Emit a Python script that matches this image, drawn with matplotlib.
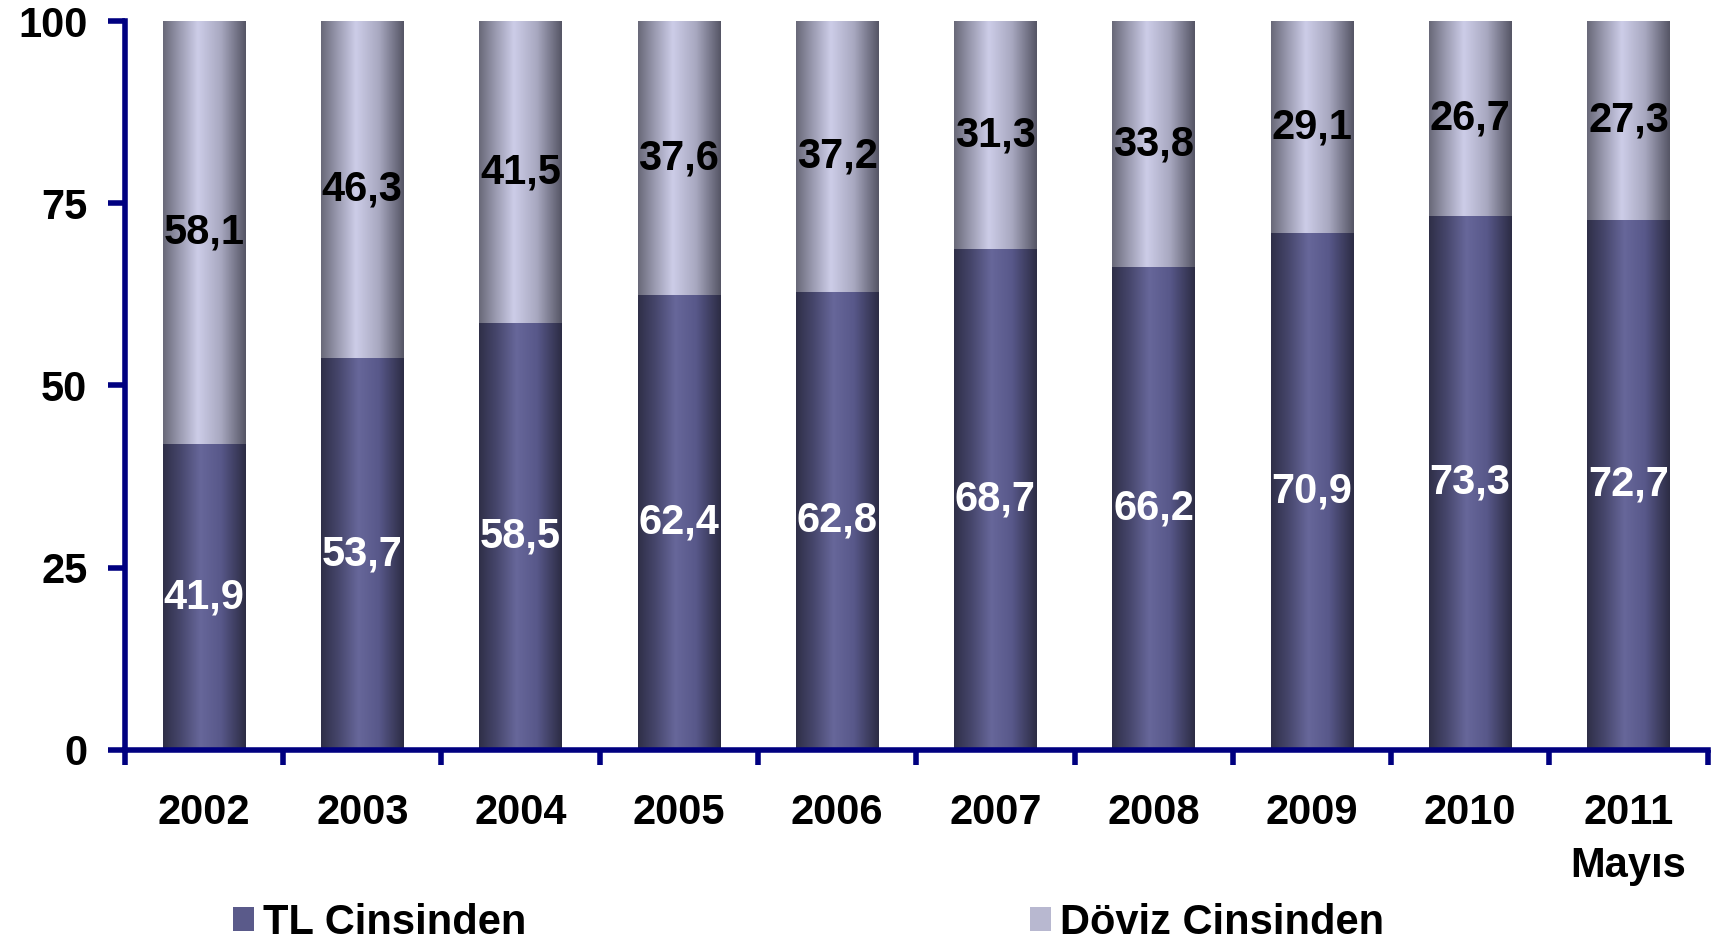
import matplotlib
matplotlib.use('Agg')
import matplotlib.pyplot as plt
from matplotlib.colors import LinearSegmentedColormap
from matplotlib.patches import Patch
import numpy as np

# veriler
years = ['2002', '2003', '2004', '2005', '2006', '2007', '2008', '2009', '2010', '2011\nMayıs']
tl_share = [41.9, 53.7, 58.5, 62.4, 62.8, 68.7, 66.2, 70.9, 73.3, 72.7]
doviz_share = [58.1, 46.3, 41.5, 37.6, 37.2, 31.3, 33.8, 29.1, 26.7, 27.3]
yticks = [0, 25, 50, 75, 100]

plt.rcParams['font.family'] = ['Liberation Sans', 'DejaVu Sans']
plt.rcParams['font.weight'] = 'bold'
fs = 30

navy = '#000080'
tl_cmap = LinearSegmentedColormap.from_list(
    'tl', [(0, '#2f2f48'), (0.2, '#45456a'), (0.45, '#67679a'), (0.7, '#58588a'), (1, '#2c2c44')])
dv_cmap = LinearSegmentedColormap.from_list(
    'dv', [(0, '#686878'), (0.2, '#9a9ab0'), (0.42, '#cdcde8'), (0.7, '#a8a8c0'), (1, '#555565')])
grad = np.linspace(0, 1, 256).reshape(1, -1)

fig = plt.figure(figsize=(17.11, 9.42), dpi=100)
ax = fig.add_axes([0.073, 0.204, 0.925, 0.7737])

x = np.arange(len(years))
w = 0.52
b1 = ax.bar(x, tl_share, width=w, color='none', edgecolor='none')
b2 = ax.bar(x, doviz_share, width=w, bottom=tl_share, color='none', edgecolor='none')

# yatay gradyan dolgu
for bars, cmap in [(b1, tl_cmap), (b2, dv_cmap)]:
    for r in bars:
        x0, y0 = r.get_x(), r.get_y()
        im = ax.imshow(grad, cmap=cmap, aspect='auto', interpolation='bicubic',
                       extent=(x0, x0 + r.get_width(), y0, y0 + r.get_height()), zorder=2)
        im.set_clip_path(r)

for i in range(len(years)):
    ax.text(x[i], tl_share[i] / 2, '{:.1f}'.format(tl_share[i]).replace('.', ','),
            ha='center', va='center', color='white', fontsize=fs, fontweight='bold', zorder=3)
    ax.text(x[i], tl_share[i] + doviz_share[i] / 2, '{:.1f}'.format(doviz_share[i]).replace('.', ','),
            ha='center', va='center', color='black', fontsize=fs, fontweight='bold', zorder=3)

ax.set_xlim(-0.5, len(years) - 0.5)
ax.set_ylim(0, 100)
ax.set_yticks(yticks)
ax.set_yticklabels([str(t) for t in yticks], fontsize=fs, fontweight='bold')
ax.set_xticks(np.arange(len(years) + 1) - 0.5)
ax.set_xticklabels([])
ax.set_xticks(x, minor=True)
ax.set_xticklabels(years, minor=True, fontsize=fs, fontweight='bold', linespacing=1.42)
ax.tick_params(axis='x', which='minor', length=0, pad=31)
ax.tick_params(axis='x', which='major', length=11, width=4, color=navy, direction='out')
ax.tick_params(axis='y', length=12, width=4, color=navy, direction='out', pad=15)

for s in ['top', 'right']:
    ax.spines[s].set_visible(False)
for s in ['left', 'bottom']:
    ax.spines[s].set_color(navy)
    ax.spines[s].set_linewidth(4)

handles = [Patch(facecolor='#5a5a8a', label='TL Cinsinden'),
           Patch(facecolor='#b8b8d0', label='Döviz Cinsinden')]
fig.legend(handles=handles, loc='lower left', bbox_to_anchor=(0.1142, -0.0405), ncol=2,
           frameon=False, handlelength=0.5, handleheight=0.5,
           handletextpad=0.22, columnspacing=12.1, prop={'weight': 'bold', 'size': fs})

fig.savefig('out.png', dpi=100)
